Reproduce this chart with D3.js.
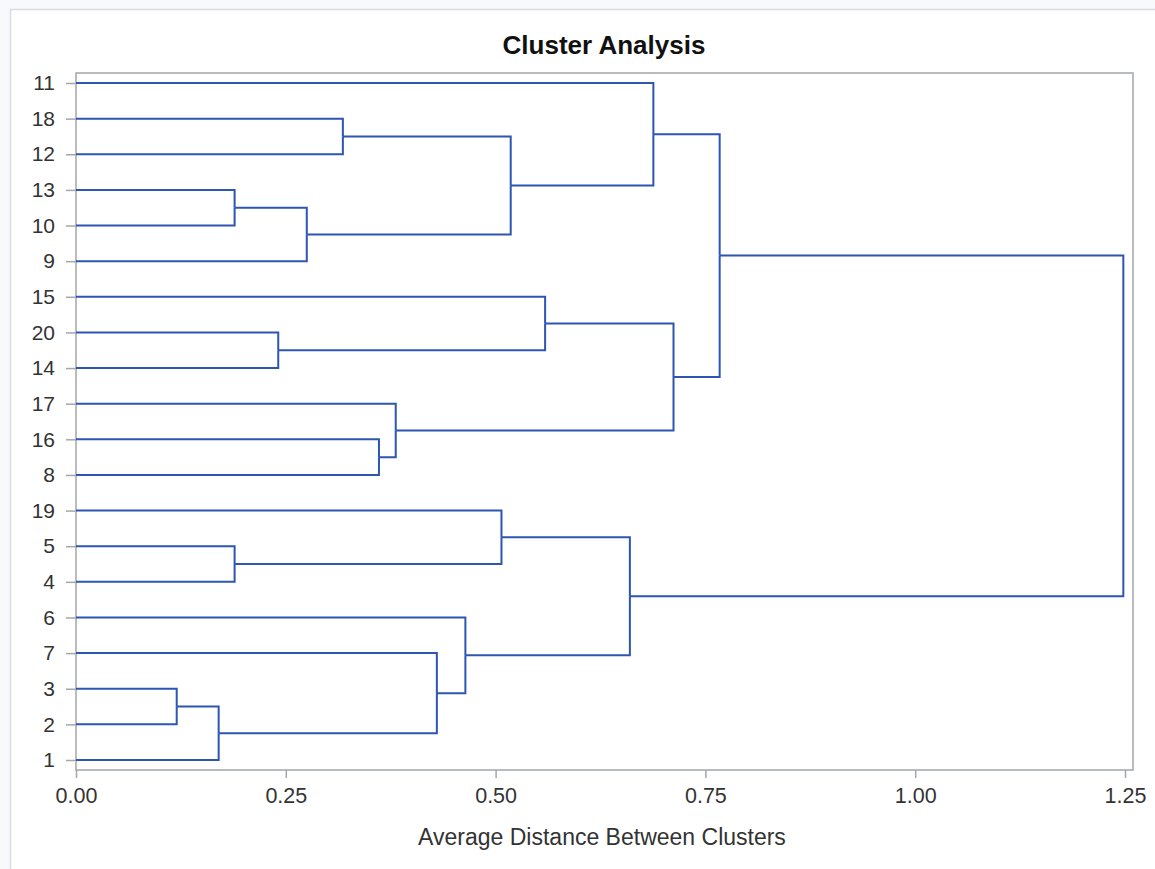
<!DOCTYPE html>
<html>
<head>
<meta charset="utf-8">
<script src="https://cdn.jsdelivr.net/npm/d3@7"></script>
<style>
  html, body { margin: 0; padding: 0; background: #f8f9fc; }
  svg { display: block; }
  .tick text { font-family: "Liberation Sans", Arial, sans-serif; fill: #333; }
</style>
</head>
<body>
<svg id="chart" width="1155" height="869"></svg>
<script>
'use strict';

// leaf order, top to bottom
let leaves = ['11', '18', '12', '13', '10', '9', '15', '20', '14', '17',
  '16', '8', '19', '5', '4', '6', '7', '3', '2', '1'];

// cluster history: each row joins two members at a distance
let clusterIds = ['CL19', 'CL18', 'CL17', 'CL16', 'CL15', 'CL14', 'CL13', 'CL12', 'CL11', 'CL10',
  'CL9', 'CL8', 'CL7', 'CL6', 'CL5', 'CL4', 'CL3', 'CL2', 'CL1'];
let joinA = ['3', 'CL19', '13', '5', '20', 'CL17', '18', '16', '17', '7',
  '6', '19', 'CL13', '15', 'CL8', '11', 'CL6', 'CL4', 'CL2'];
let joinB = ['2', '1', '10', '4', '14', '9', '12', '8', 'CL12', 'CL18',
  'CL10', 'CL16', 'CL14', 'CL15', 'CL9', 'CL7', 'CL11', 'CL3', 'CL5'];
let joinDist = [0.120, 0.170, 0.189, 0.189, 0.241, 0.275, 0.318, 0.361, 0.381, 0.430,
  0.464, 0.507, 0.518, 0.559, 0.660, 0.688, 0.712, 0.767, 1.248];

let xTicks = [0, 0.25, 0.5, 0.75, 1.0, 1.25];

let svg = d3.select('#chart');
let W = 1155, H = 869;

let frame = { x: 76, y: 73, w: 1057, h: 697 };
let lineColor = '#2d55b2';
let axisColor = '#a3a7ab';

// outer panel
svg.append('rect')
  .attr('x', 10.5)
  .attr('y', 9.5)
  .attr('width', W + 20)
  .attr('height', H + 20)
  .style('fill', '#fff')
  .style('stroke', '#d9dbe0')
  .style('stroke-width', 1.5);

let x = d3.scaleLinear()
  .domain([0, 1.25])
  .range([76, 1125]);

let y = d3.scalePoint()
  .domain(leaves)
  .range([83, 760]);

// frame
svg.append('rect')
  .attr('x', frame.x)
  .attr('y', frame.y)
  .attr('width', frame.w)
  .attr('height', frame.h)
  .style('fill', 'none')
  .style('stroke', axisColor)
  .style('stroke-width', 1.5);

// axes
let yAxis = svg.append('g')
  .attr('transform', `translate(${frame.x},0)`)
  .call(d3.axisLeft(y).tickSize(10).tickPadding(11));
yAxis.select('.domain').remove();
yAxis.selectAll('.tick line').style('stroke', axisColor).style('stroke-width', 1.5);
yAxis.selectAll('.tick text').style('font-size', '21px');

let xAxis = svg.append('g')
  .attr('transform', `translate(0,${frame.y + frame.h})`)
  .call(d3.axisBottom(x).tickValues(xTicks).tickFormat(d3.format('.2f')).tickSize(8).tickPadding(10));
xAxis.select('.domain').remove();
xAxis.selectAll('.tick line').style('stroke', axisColor).style('stroke-width', 1.5);
xAxis.selectAll('.tick text').style('font-size', '21.5px');

// dendrogram nodes
let nodes = {};
leaves.forEach(l => { nodes[l] = { h: 0, y: y(l) }; });
clusterIds.forEach((id, i) => {
  let a = nodes[joinA[i]];
  let b = nodes[joinB[i]];
  nodes[id] = { h: joinDist[i], y: (a.y + b.y) / 2, a: a, b: b };
});

let segs = [];
clusterIds.forEach(id => {
  let n = nodes[id];
  [n.a, n.b].forEach(c => {
    segs.push([[x(c.h), c.y], [x(n.h), c.y], [x(n.h), n.y]]);
  });
});

svg.append('g')
  .selectAll('path')
  .data(segs)
  .enter()
  .append('path')
  .attr('d', d3.line())
  .style('fill', 'none')
  .style('stroke', lineColor)
  .style('stroke-width', 2)
  .style('stroke-linejoin', 'miter');

// titles
svg.append('text')
  .attr('x', 604)
  .attr('y', 54)
  .style('text-anchor', 'middle')
  .style('font-family', '"Liberation Sans", Arial, sans-serif')
  .style('font-weight', 'bold')
  .style('font-size', '26px')
  .style('fill', '#111')
  .text('Cluster Analysis');

svg.append('text')
  .attr('x', 602)
  .attr('y', 845)
  .style('text-anchor', 'middle')
  .style('font-family', '"Liberation Sans", Arial, sans-serif')
  .style('font-size', '23px')
  .style('fill', '#333')
  .text('Average Distance Between Clusters');
</script>
</body>
</html>
